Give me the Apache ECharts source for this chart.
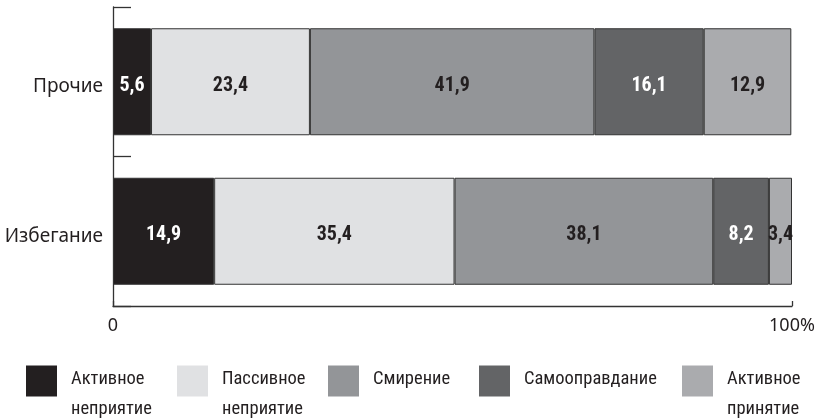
<!DOCTYPE html>
<html><head><meta charset="utf-8">
<script src="https://cdn.jsdelivr.net/npm/echarts@6/dist/echarts.min.js"></script>
<style>html,body{margin:0;padding:0;background:#fff}#c{width:819px;height:418px}</style>
</head><body><div id="c"></div>
<script>
var categories = ['Прочие', 'Избегание'];
var seriesNames = ['Активное неприятие', 'Пассивное неприятие', 'Смирение', 'Самооправдание', 'Активное принятие'];
var legendLines = [['Активное', 'неприятие'], ['Пассивное', 'неприятие'], ['Смирение', ' '], ['Самооправдание', ' '], ['Активное', 'принятие']];
var activeRejection = [5.6, 14.9];
var passiveRejection = [23.4, 35.4];
var humility = [41.9, 38.1];
var selfJustification = [16.1, 8.2];
var activeAcceptance = [12.9, 3.4];
var xTickLabels = {0: '0', 100: '100%'};

var values = [activeRejection, passiveRejection, humility, selfJustification, activeAcceptance];
var colors = ['#231f20', '#e0e1e3', '#939598', '#636466', '#aaabae'];
var labelColors = ['#ffffff', '#231f20', '#231f20', '#ffffff', '#231f20'];
var legendLefts = [26, 177, 328, 479, 682];
var condensed = "'Roboto Condensed', 'DejaVu Sans Condensed', sans-serif";
var regular = "'Noto Sans', sans-serif";

var chart = echarts.init(document.getElementById('c'));
var series = seriesNames.map(function (n, i) {
  return {
    name: n, type: 'bar', stack: 'total', barWidth: 107,
    data: values[i],
    itemStyle: { color: colors[i], borderColor: '#333333', borderWidth: 1 },
    label: { show: true, position: 'inside', color: labelColors[i], fontFamily: condensed,
      fontWeight: 'bold', fontSize: 20, offset: [0, 4],
      formatter: function (p) { return String(p.value).replace('.', ','); } },
    emphasis: { disabled: true }
  };
});
var legends = seriesNames.map(function (n, i) {
  return {
    left: legendLefts[i], top: 346, padding: 0, data: [n], icon: 'rect',
    itemWidth: 31, itemHeight: 31, selectedMode: false,
    itemStyle: { borderWidth: 0 },
    formatter: function () { return '{s| }\n{a|' + legendLines[i][0] + '}\n{a|' + legendLines[i][1] + '}'; },
    textStyle: { fontFamily: condensed, fontSize: 18.5, color: '#231f20',
      rich: {
        s: { fontSize: 10, lineHeight: 26, padding: [0, 0, 0, 9] },
        a: { fontFamily: condensed, fontSize: 18.5, color: '#231f20', lineHeight: 30, padding: [0, 0, 0, 9] }
      } }
  };
});
chart.setOption({
  animation: false,
  grid: { left: 113, right: 27, top: 7, bottom: 112, containLabel: false },
  legend: legends,
  xAxis: {
    type: 'value', min: 0, max: 100, interval: 100,
    axisLine: { show: true, lineStyle: { color: '#333333', width: 1.3 } },
    axisTick: { show: true, inside: true, length: 5, lineStyle: { color: '#333333', width: 1.3 } },
    splitLine: { show: false },
    axisLabel: { margin: 11, fontFamily: regular, fontSize: 18, color: '#231f20',
      formatter: function (v) { return xTickLabels[v]; } }
  },
  yAxis: {
    type: 'category', data: categories, inverse: true,
    axisLine: { show: true, lineStyle: { color: '#333333', width: 1.3 } },
    axisTick: { show: true, inside: true, length: 18, lineStyle: { color: '#333333', width: 1.3 } },
    axisLabel: { margin: 10, fontFamily: regular, fontSize: 19, color: '#231f20',
      verticalAlign: 'top', lineHeight: 10 }
  },
  series: series
});
</script></body></html>
